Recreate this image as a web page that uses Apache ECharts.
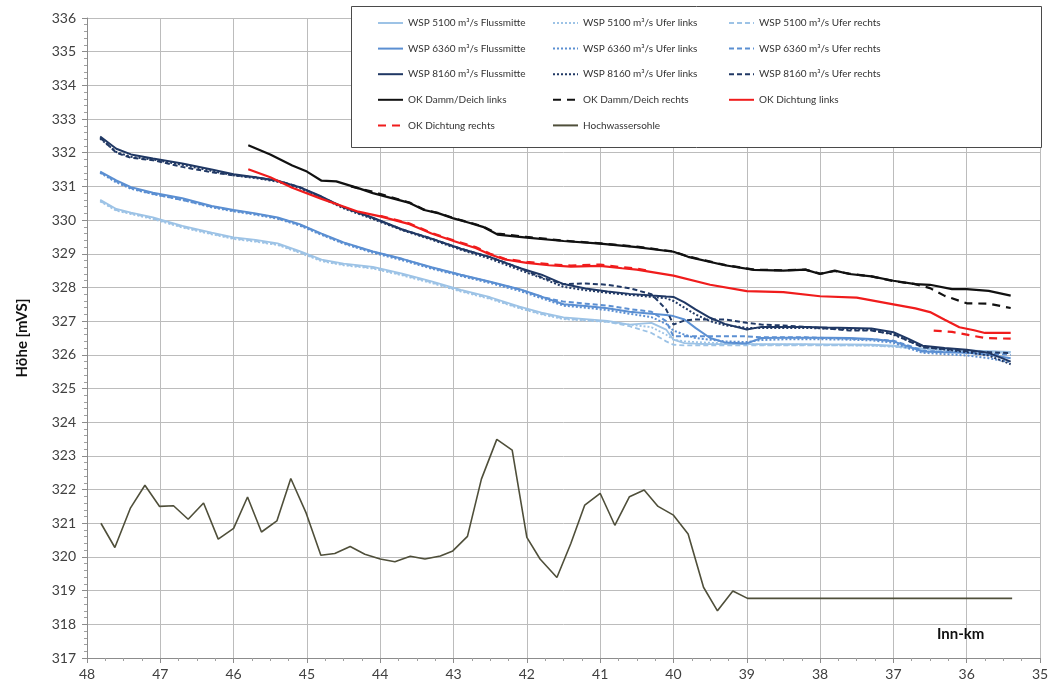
<!DOCTYPE html>
<html>
<head>
<meta charset="utf-8">
<script src="https://cdn.jsdelivr.net/npm/echarts@6/dist/echarts.min.js"></script>
<style>html,body{margin:0;padding:0;background:#fff;}#c{width:1051px;height:688px;}</style>
</head>
<body>
<div id="c"></div>
<script>
// ---- data ----
const kmWsp = [47.82,47.6,47.4,47.1,46.7,46.3,46.0,45.7,45.4,45.1,44.8,44.5,44.1,43.7,43.3,42.9,42.5,42.1,41.8,41.5,41.2,40.9,40.6,40.3,40.1,40.0,39.85,39.7,39.5,39.3,39.0,38.8,38.5,38.2,37.9,37.6,37.3,37.0,36.8,36.6,36.3,36.0,35.7,35.4];

const wsp5100Mitte = [330.6,330.33,330.22,330.08,329.83,329.63,329.49,329.41,329.31,329.08,328.83,328.71,328.61,328.41,328.18,327.93,327.71,327.43,327.25,327.11,327.06,327.01,326.9,326.95,326.75,326.45,326.35,326.33,326.32,326.32,326.32,326.32,326.32,326.32,326.31,326.31,326.3,326.27,326.22,326.19,326.16,326.13,326.11,326.09];
const wsp5100Links = [330.55,330.28,330.18,330.03,329.78,329.58,329.44,329.36,329.26,329.03,328.78,328.66,328.56,328.36,328.13,327.88,327.66,327.38,327.2,327.06,327.02,326.98,326.9,326.82,326.6,326.45,326.4,326.38,326.36,326.34,326.32,326.3,326.3,326.3,326.29,326.28,326.27,326.24,326.2,326.16,326.13,326.1,326.08,326.05];
const wsp5100Rechts = [330.57,330.3,330.2,330.05,329.8,329.6,329.46,329.38,329.28,329.05,328.8,328.68,328.58,328.38,328.15,327.9,327.68,327.4,327.22,327.08,327.03,326.98,326.85,326.65,326.4,326.3,326.28,326.28,326.28,326.28,326.28,326.28,326.28,326.28,326.28,326.28,326.28,326.25,326.21,326.18,326.15,326.12,326.1,326.08];

const wsp6360Mitte = [331.44,331.18,330.98,330.81,330.65,330.42,330.3,330.2,330.08,329.88,329.6,329.34,329.07,328.85,328.6,328.38,328.17,327.95,327.73,327.5,327.45,327.38,327.28,327.22,327.18,327.15,327.05,326.8,326.5,326.37,326.34,326.5,326.51,326.51,326.51,326.5,326.47,326.4,326.25,326.1,326.08,326.06,326.0,325.9];
const wsp6360Links = [331.4,331.12,330.93,330.77,330.6,330.38,330.26,330.16,330.04,329.84,329.56,329.3,329.03,328.81,328.56,328.34,328.13,327.9,327.68,327.46,327.4,327.33,327.22,327.12,326.92,326.72,326.6,326.5,326.45,326.4,326.38,326.44,326.46,326.46,326.46,326.45,326.43,326.36,326.2,326.06,326.02,325.98,325.9,325.78];
const wsp6360Rechts = [331.42,331.15,330.95,330.78,330.6,330.4,330.28,330.18,330.06,329.86,329.58,329.32,329.06,328.84,328.59,328.37,328.16,327.94,327.72,327.58,327.52,327.46,327.36,327.28,327.0,326.55,326.55,326.55,326.55,326.55,326.55,326.52,326.52,326.52,326.5,326.48,326.46,326.42,326.28,326.12,326.09,326.07,326.04,326.0];

const wsp8160Mitte = [332.48,332.12,331.95,331.83,331.68,331.5,331.36,331.27,331.17,330.98,330.7,330.38,330.07,329.72,329.45,329.15,328.9,328.58,328.38,328.1,327.97,327.88,327.81,327.76,327.73,327.72,327.56,327.35,327.1,326.92,326.75,326.83,326.83,326.83,326.81,326.8,326.78,326.67,326.48,326.27,326.2,326.15,326.06,325.8];
const wsp8160Links = [332.42,332.02,331.88,331.8,331.64,331.46,331.33,331.25,331.14,330.95,330.66,330.35,330.03,329.7,329.42,329.12,328.85,328.52,328.28,328.02,327.92,327.84,327.78,327.72,327.68,327.6,327.4,327.2,327.0,326.88,326.8,326.8,326.8,326.8,326.78,326.76,326.74,326.6,326.42,326.24,326.16,326.08,325.98,325.72];
const wsp8160Rechts = [332.45,332.0,331.85,331.78,331.58,331.42,331.33,331.27,331.17,330.98,330.68,330.38,330.06,329.72,329.45,329.15,328.9,328.58,328.3,328.1,328.12,328.08,327.98,327.8,327.35,326.9,327.02,327.05,327.05,327.05,326.95,326.9,326.87,326.83,326.78,326.72,326.72,326.62,326.42,326.22,326.17,326.11,326.08,326.05];

const kmDammLinks = [45.8,45.5,45.2,45.0,44.8,44.6,44.3,44.1,43.6,43.4,43.2,43.0,42.8,42.6,42.4,42.0,41.5,41.0,40.5,40.0,39.8,39.3,38.9,38.5,38.2,38.0,37.8,37.6,37.3,37.0,36.7,36.5,36.2,36.0,35.7,35.4];
const dammLinks = [332.22,331.95,331.62,331.44,331.17,331.15,330.95,330.8,330.51,330.3,330.2,330.05,329.93,329.8,329.57,329.48,329.38,329.3,329.2,329.06,328.91,328.66,328.52,328.5,328.53,328.4,328.5,328.4,328.33,328.2,328.1,328.08,327.95,327.95,327.9,327.76];

const kmDammRechts = [44.4,44.1,43.6,43.4,43.2,43.0,42.8,42.6,42.4,42.0,41.5,41.0,40.5,40.0,39.8,39.3,38.9,38.5,38.2,38.0,37.8,37.6,37.3,37.0,36.7,36.5,36.3,36.0,35.7,35.4];
const dammRechts = [331.0,330.84,330.52,330.31,330.21,330.06,329.94,329.81,329.6,329.5,329.39,329.31,329.21,329.07,328.92,328.67,328.53,328.51,328.53,328.41,328.49,328.41,328.33,328.19,328.1,327.98,327.75,327.53,327.52,327.39];

const kmDichtLinks = [45.8,45.5,45.2,44.8,44.3,44.0,43.6,43.3,43.0,42.7,42.5,42.3,42.0,41.7,41.4,41.0,40.7,40.5,40.0,39.5,39.0,38.5,38.0,37.5,37.0,36.7,36.5,36.3,36.1,35.9,35.75,35.4];
const dichtLinks = [331.51,331.27,330.96,330.63,330.25,330.11,329.88,329.6,329.38,329.17,328.98,328.83,328.73,328.66,328.62,328.64,328.57,328.53,328.35,328.08,327.89,327.86,327.74,327.7,327.5,327.38,327.27,327.04,326.82,326.73,326.65,326.65];

const kmDichtRechts = [44.0,43.6,43.3,43.0,42.7,42.5,42.3,42.0,41.7,41.4,41.0,40.7,40.5,40.35,38.0,36.45,36.2,36.0,35.75,35.4];
const dichtRechts = [330.13,329.9,329.62,329.4,329.2,329.0,328.85,328.76,328.69,328.65,328.68,328.6,328.56,328.5,null,326.72,326.68,326.6,326.5,326.48];

const kmSohle = [47.81,47.62,47.41,47.21,47.01,46.82,46.62,46.41,46.21,46.0,45.81,45.62,45.41,45.22,45.01,44.81,44.62,44.41,44.21,44.0,43.8,43.59,43.39,43.18,43.01,42.81,42.62,42.41,42.2,42.0,41.82,41.59,41.4,41.21,41.0,40.8,40.6,40.4,40.21,40.0,39.8,39.59,39.4,39.19,38.99,38.0,37.0,36.0,35.38];
const sohle = [321.0,320.28,321.44,322.13,321.5,321.52,321.12,321.6,320.53,320.85,321.78,320.74,321.07,322.33,321.3,320.05,320.1,320.31,320.08,319.94,319.86,320.02,319.94,320.03,320.18,320.61,322.31,323.49,323.17,320.58,319.94,319.39,320.4,321.54,321.89,320.94,321.79,321.99,321.5,321.24,320.68,319.1,318.4,318.99,318.77,318.77,318.77,318.77,318.77];

const yTicks = {min: 317, max: 336, step: 1};
const xTicks = {min: 35, max: 48, step: 1};

// ---- build ----
const pair = (xs, ys) => xs.map((x, i) => [x, ys[i]]);
const C5100 = '#9dc3e6', C6360 = '#5b8fd2', C8160 = '#203864';
const DOT = [2, 2], DASH = [5, 3], LDASH = [8, 6];

function ln(name, xs, ys, color, width, type, z) {
  return {
    name, type: 'line', data: pair(xs, ys), symbol: 'none', z: z || 2,
    connectNulls: false, animation: false,
    lineStyle: {color, width, type: type || 'solid'},
    itemStyle: {color}
  };
}

const N = {
  a1: 'WSP 5100 m³/s Flussmitte', a2: 'WSP 5100 m³/s Ufer links', a3: 'WSP 5100 m³/s Ufer rechts',
  b1: 'WSP 6360 m³/s Flussmitte', b2: 'WSP 6360 m³/s Ufer links', b3: 'WSP 6360 m³/s Ufer rechts',
  c1: 'WSP 8160 m³/s Flussmitte', c2: 'WSP 8160 m³/s Ufer links', c3: 'WSP 8160 m³/s Ufer rechts',
  d1: 'OK Damm/Deich links', d2: 'OK Damm/Deich rechts', d3: 'OK Dichtung links',
  e1: 'OK Dichtung rechts', e2: 'Hochwassersohle'
};

const series = [
  ln(N.a1, kmWsp, wsp5100Mitte, C5100, 1.8, 'solid'),
  ln(N.a2, kmWsp, wsp5100Links, C5100, 1.8, DOT),
  ln(N.a3, kmWsp, wsp5100Rechts, C5100, 1.8, DASH),
  ln(N.b1, kmWsp, wsp6360Mitte, C6360, 2, 'solid'),
  ln(N.b2, kmWsp, wsp6360Links, C6360, 2, DOT),
  ln(N.b3, kmWsp, wsp6360Rechts, C6360, 2, DASH),
  ln(N.c1, kmWsp, wsp8160Mitte, C8160, 2, 'solid'),
  ln(N.c2, kmWsp, wsp8160Links, C8160, 2, DOT),
  ln(N.c3, kmWsp, wsp8160Rechts, C8160, 2, DASH),
  ln(N.d1, kmDammLinks, dammLinks, '#111111', 2.2, 'solid', 3),
  ln(N.d2, kmDammRechts, dammRechts, '#111111', 2.2, LDASH, 3),
  ln(N.d3, kmDichtLinks, dichtLinks, '#f01c1c', 2.2, 'solid', 3),
  ln(N.e1, kmDichtRechts, dichtRechts, '#f01c1c', 2.2, LDASH, 3),
  ln(N.e2, kmSohle, sohle, '#4f4f3a', 1.6, 'solid')
];

const legendFont = {fontFamily: 'Lato, Liberation Sans, sans-serif', fontSize: 10, color: '#333'};
function legendCol(left, names) {
  return {
    show: true, orient: 'vertical', left, top: 18, itemWidth: 25, itemHeight: 12,
    itemGap: 15.6, itemStyle: {opacity: 0, borderWidth: 0}, textStyle: legendFont, data: names,
    selectedMode: false, z: 6, padding: 0
  };
}

const axisFont = {fontFamily: 'Lato, Liberation Sans, sans-serif', fontSize: 14, color: '#404040'};

const option = {
  backgroundColor: '#ffffff',
  animation: false,
  grid: {left: 87, right: 11, top: 18, bottom: 30, containLabel: false, outerBoundsMode: 'none'},
  xAxis: {
    type: 'value', inverse: true, min: xTicks.min, max: xTicks.max, interval: xTicks.step,
    axisLine: {show: true, onZero: false, lineStyle: {color: '#8c8c8c', width: 1}},
    axisTick: {show: true, length: 5, lineStyle: {color: '#8c8c8c'}},
    minorTick: {show: true, splitNumber: 4, length: 3, lineStyle: {color: '#a0a0a0'}},
    splitLine: {show: true, lineStyle: {color: '#bcbcbc', width: 1}},
    axisLabel: Object.assign({margin: 9}, axisFont)
  },
  yAxis: {
    type: 'value', min: yTicks.min, max: yTicks.max, interval: yTicks.step,
    axisLine: {show: true, lineStyle: {color: '#8c8c8c', width: 1}},
    axisTick: {show: true, length: 5, lineStyle: {color: '#8c8c8c'}},
    minorTick: {show: true, splitNumber: 5, length: 3, lineStyle: {color: '#a0a0a0'}},
    splitLine: {show: true, lineStyle: {color: '#bcbcbc', width: 1}},
    axisLabel: Object.assign({margin: 11}, axisFont)
  },
  legend: [
    legendCol(377, [N.a1, N.b1, N.c1, N.d1, N.e1]),
    legendCol(552, [N.a2, N.b2, N.c2, N.d2, N.e2]),
    legendCol(728, [N.a3, N.b3, N.c3, N.d3])
  ],
  graphic: [
    {type: 'rect', left: 351, top: 6, z: 5, shape: {width: 690, height: 141},
     style: {fill: '#ffffff', stroke: '#4a4a4a', lineWidth: 1}},
    {type: 'text', left: 937, top: 627, z: 5,
     style: {text: 'Inn-km', fill: '#111', font: 'bold 15px Lato, Liberation Sans, sans-serif'}},
    {type: 'text', x: 22, y: 338, rotation: Math.PI / 2, z: 5,
     style: {text: 'Höhe [mVS]', fill: '#111', align: 'center', verticalAlign: 'middle',
             font: 'bold 15px Lato, Liberation Sans, sans-serif'}}
  ],
  series
};

const chart = echarts.init(document.getElementById('c'), null, {renderer: 'canvas'});
chart.setOption(option);
</script>
</body>
</html>
